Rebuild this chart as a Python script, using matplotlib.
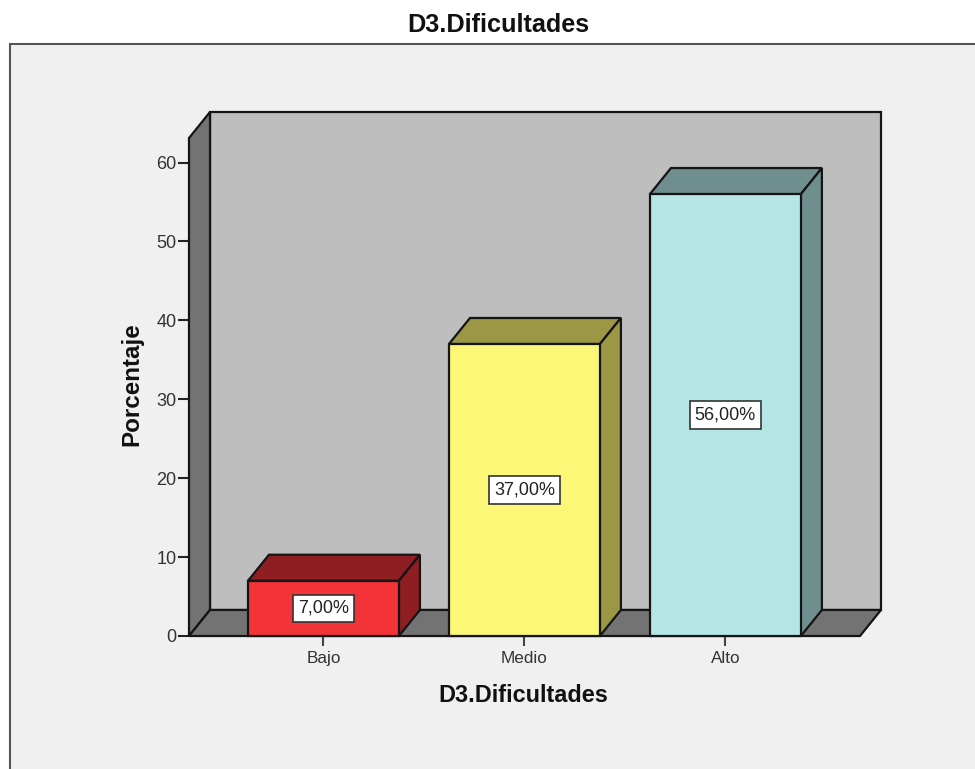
import matplotlib.pyplot as plt
from matplotlib.patches import Rectangle


# --------------------------------------------------
# 1. DATA
# --------------------------------------------------

categories = ["Bajo", "Medio", "Alto"]
percentages = [7, 37, 56]
value_labels = ["7,00%", "37,00%", "56,00%"]
y_ticks = [0, 10, 20, 30, 40, 50, 60]

front_colors = ["#F23338", "#FCF777", "#B5E6E6"]
shade_colors = ["#8E1E21", "#9B9745", "#6F8E8E"]


# --------------------------------------------------
# 2. FIGURE AND PANEL
# --------------------------------------------------

plt.rcParams["font.family"] = ["Liberation Sans", "DejaVu Sans"]

WIDTH = 975
HEIGHT = 769

fig = plt.figure(figsize=(WIDTH / 100, HEIGHT / 100), dpi=100, facecolor="white")

# grey panel, runs off the right and bottom edges
fig.add_artist(
    Rectangle(
        (10 / WIDTH, -0.01),
        1.0,
        (HEIGHT - 43.5) / HEIGHT + 0.01,
        transform=fig.transFigure,
        facecolor="#F0F0F0",
        edgecolor="#555555",
        linewidth=1.5,
        zorder=-1,
    )
)

fig.text(498 / WIDTH, 1 - 25 / HEIGHT, "D3.Dificultades", ha="center", va="center",
         fontsize=18.2, fontweight="bold", color="#111111")


# --------------------------------------------------
# 3. AXES (spans the whole 3D box)
# --------------------------------------------------

left, right, top, bottom = 189, 881, 112, 636

ax = fig.add_axes([left / WIDTH, 1 - bottom / HEIGHT,
                   (right - left) / WIDTH, (bottom - top) / HEIGHT])
ax.patch.set_visible(False)

x_min, x_max = -0.669, 2.774
y_min, y_max = 0, 66.4
ax.set_xlim(x_min, x_max)
ax.set_ylim(y_min, y_max)

depth_x = 0.1045
depth_y = 3.3
bar_width = 0.751
edge = {"edgecolor": "#151515", "linewidth": 1.6, "joinstyle": "miter"}

# back wall
ax.fill([x_min + depth_x, x_max, x_max, x_min + depth_x],
        [depth_y, depth_y, y_max, y_max], facecolor="#BEBEBE", zorder=1,
        clip_on=False, **edge)

# left wall
ax.fill([x_min, x_min + depth_x, x_min + depth_x, x_min],
        [y_min, depth_y, y_max, y_max - depth_y], facecolor="#737373", zorder=2,
        clip_on=False, **edge)

# floor
ax.fill([x_min, x_max - depth_x, x_max, x_min + depth_x],
        [y_min, y_min, depth_y, depth_y], facecolor="#737373", zorder=2,
        clip_on=False, **edge)


# --------------------------------------------------
# 4. BARS
# --------------------------------------------------

for i, value in enumerate(percentages):
    x0 = i - bar_width / 2
    x1 = i + bar_width / 2

    # top face
    ax.fill([x0, x1, x1 + depth_x, x0 + depth_x],
            [value, value, value + depth_y, value + depth_y],
            facecolor=shade_colors[i], zorder=3, clip_on=False, **edge)

    # side face
    ax.fill([x1, x1 + depth_x, x1 + depth_x, x1],
            [0, depth_y, value + depth_y, value],
            facecolor=shade_colors[i], zorder=3, clip_on=False, **edge)

    # front face
    ax.bar(i, value, width=bar_width, color=front_colors[i], zorder=4,
           clip_on=False, **edge)

    ax.text(i, value / 2, value_labels[i], ha="center", va="center", fontsize=13,
            color="#222222", zorder=5,
            bbox={"boxstyle": "square,pad=0.28", "facecolor": "white",
                  "edgecolor": "#333333", "linewidth": 1.2})


# --------------------------------------------------
# 5. TICKS AND LABELS
# --------------------------------------------------

for side in ax.spines.values():
    side.set_visible(False)

ax.set_yticks(y_ticks)
ax.set_xticks(range(len(categories)))
ax.set_xticklabels(categories)
ax.tick_params(axis="y", length=8, width=1.5, color="#222222", labelsize=13,
               labelcolor="#333333", pad=1)
ax.tick_params(axis="x", length=7.5, width=1.5, color="#444444", labelsize=12.3,
               labelcolor="#333333", pad=3)

fig.text(132 / WIDTH, 1 - 384 / HEIGHT, "Porcentaje", rotation=90, ha="center",
         va="center", fontsize=17.4, fontweight="bold", color="#111111")
fig.text(523.5 / WIDTH, 1 - 696 / HEIGHT, "D3.Dificultades", ha="center", va="center",
         fontsize=16.9, fontweight="bold", color="#111111")


# --------------------------------------------------
# 6. SAVE
# --------------------------------------------------

fig.savefig("out.png", dpi=100, facecolor=fig.get_facecolor())
